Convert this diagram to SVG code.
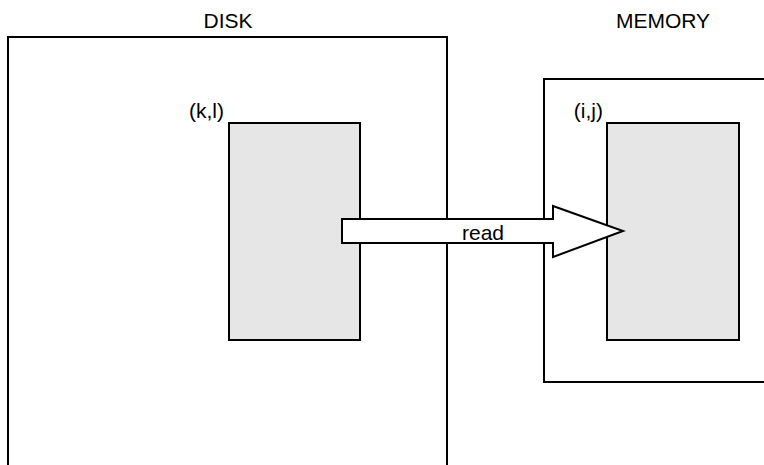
<svg xmlns="http://www.w3.org/2000/svg" width="764" height="465" viewBox="0 0 764 465">
<style>
.box{fill:#ffffff;stroke:#000000;stroke-width:2}
.blk{fill:#e6e6e6;stroke:#000000;stroke-width:2}
.lbl{font-family:"Liberation Sans",Arial,sans-serif;font-size:21px;fill:#000000}
</style>
<rect width="764" height="465" fill="#ffffff"/>
<g id="disk">
<rect class="box" x="8" y="37" width="439" height="440"/>
<text class="lbl" x="228" y="28" text-anchor="middle">DISK</text>
</g>
<g id="disk-block">
<rect class="blk" x="229" y="123" width="131" height="217"/>
<text class="lbl" x="224" y="118" text-anchor="end">(k,l)</text>
</g>
<g id="memory">
<rect class="box" x="544" y="79" width="230" height="303"/>
<text class="lbl" x="663" y="28" text-anchor="middle">MEMORY</text>
</g>
<g id="memory-block">
<rect class="blk" x="607" y="123" width="132" height="217"/>
<text class="lbl" x="603" y="118" text-anchor="end">(i,j)</text>
</g>
<g id="connectors">
<polygon points="342,219 553,219 553,206 623,231 553,257 553,243 342,243" fill="#ffffff" stroke="#000000" stroke-width="2" stroke-linejoin="miter"/>
<text class="lbl" x="483" y="240" text-anchor="middle">read</text>
</g>
</svg>
